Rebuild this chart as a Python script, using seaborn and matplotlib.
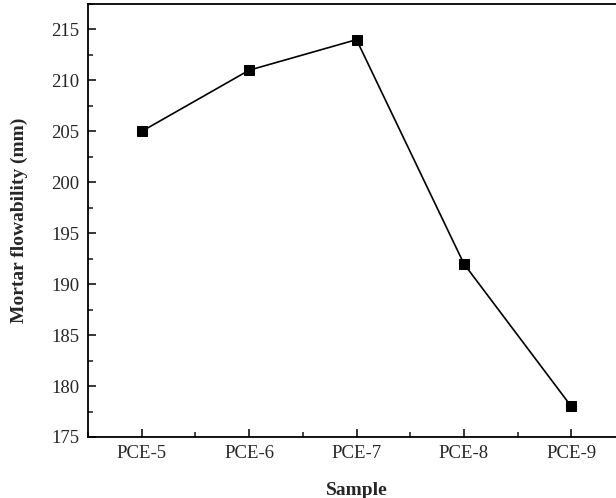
import numpy as np
import pandas as pd
import matplotlib.pyplot as plt
from matplotlib.ticker import MultipleLocator
import seaborn as sns

samples = ["PCE-5", "PCE-6", "PCE-7", "PCE-8", "PCE-9"]
flowability = [205, 211, 214, 192, 178]

df = pd.DataFrame({"Sample": samples, "Flow": flowability})

sns.set_style("ticks")
plt.rcParams["font.family"] = ["Liberation Serif", "DejaVu Serif"]

fig = plt.figure(figsize=(6.16, 4.98), dpi=100)
ax = fig.add_axes([88 / 616, 61 / 498, 537 / 616, 433 / 498])

sns.lineplot(data=df, x="Sample", y="Flow", marker="s", color="black",
             markersize=7.5, linewidth=1.2, markeredgecolor="black", ax=ax)

ax.set_xlim(-0.5, 4.5)
ax.set_ylim(175, 217.5)
ax.yaxis.set_major_locator(MultipleLocator(5))
ax.yaxis.set_minor_locator(MultipleLocator(2.5))
ax.xaxis.set_minor_locator(MultipleLocator(0.5))
ax.tick_params(which="major", direction="in", length=6, width=1.3, labelsize=13.5, pad=6)
ax.tick_params(which="minor", direction="in", length=3.5, width=1.2)
ax.tick_params(top=False, right=False, which="both")
for s in ax.spines.values():
    s.set_linewidth(1.3)
    s.set_color("black")

ax.set_xlabel("Sample", fontsize=14, fontweight="bold", labelpad=14)
ax.set_ylabel("Mortar flowability (mm)", fontsize=14, fontweight="bold", labelpad=17)

fig.savefig("out.png", dpi=100)
